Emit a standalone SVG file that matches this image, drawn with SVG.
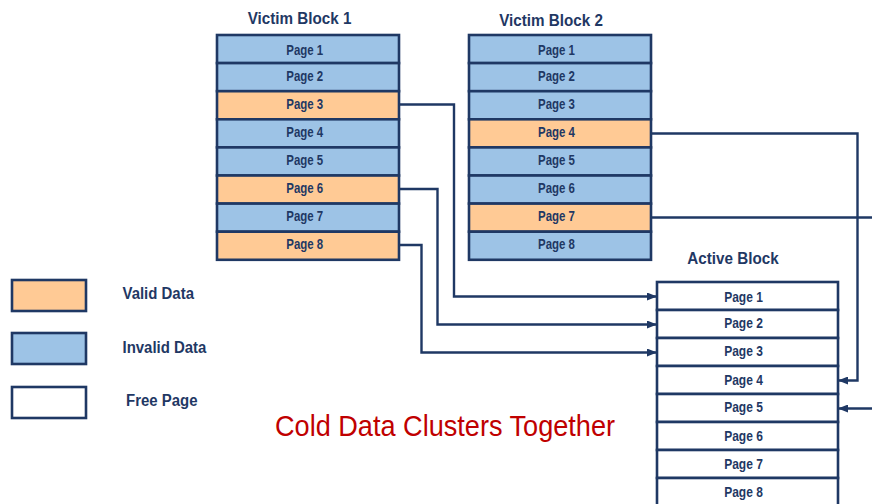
<svg xmlns="http://www.w3.org/2000/svg" width="872" height="504" viewBox="0 0 872 504">
<style>
.bd{stroke:#1F3864;stroke-width:2.6}
.v{fill:#FFCA95}
.i{fill:#9DC3E6}
.f{fill:#FFFFFF}
.pt{font-family:"Liberation Sans",Arial,sans-serif;font-weight:bold;font-size:14.5px;fill:#1F3864;text-anchor:middle}
.pa{font-family:"Liberation Sans",Arial,sans-serif;font-weight:bold;font-size:15px;fill:#1F3864;text-anchor:middle}
.tt{font-family:"Liberation Sans",Arial,sans-serif;font-weight:bold;font-size:17.3px;fill:#1F3864;text-anchor:middle}
.lt{font-family:"Liberation Sans",Arial,sans-serif;font-weight:bold;font-size:17px;fill:#1F3864}
.cap{font-family:"Liberation Sans",Arial,sans-serif;font-size:29px;fill:#C00000}
.cn{fill:none;stroke:#1F3864;stroke-width:2.4}
</style>
<defs>
<marker id="ah" viewBox="0 0 10 8" refX="10" refY="4" markerWidth="10" markerHeight="8" markerUnits="userSpaceOnUse" orient="auto">
<path d="M0,0 L10,4 L0,8 Z" fill="#1F3864"/>
</marker>
</defs>
<rect width="872" height="504" fill="#FFFFFF"/>

<g id="victim-block-1">
<text class="tt" transform="translate(299.5,24.3) scale(0.88,1)">Victim Block 1</text>
<g id="v1-p1"><rect class="bd i" x="217" y="35" width="182" height="28.1"/><text class="pt" transform="translate(304.7,55) scale(0.79,1)">Page 1</text></g>
<g id="v1-p2"><rect class="bd i" x="217" y="63.1" width="182" height="28.1"/><text class="pt" transform="translate(304.7,80.5) scale(0.79,1)">Page 2</text></g>
<g id="v1-p3"><rect class="bd v" x="217" y="91.2" width="182" height="28.1"/><text class="pt" transform="translate(304.7,108.5) scale(0.79,1)">Page 3</text></g>
<g id="v1-p4"><rect class="bd i" x="217" y="119.3" width="182" height="28.1"/><text class="pt" transform="translate(304.7,137) scale(0.79,1)">Page 4</text></g>
<g id="v1-p5"><rect class="bd i" x="217" y="147.4" width="182" height="28.1"/><text class="pt" transform="translate(304.7,164.5) scale(0.79,1)">Page 5</text></g>
<g id="v1-p6"><rect class="bd v" x="217" y="175.5" width="182" height="28.1"/><text class="pt" transform="translate(304.7,193) scale(0.79,1)">Page 6</text></g>
<g id="v1-p7"><rect class="bd i" x="217" y="203.6" width="182" height="28.1"/><text class="pt" transform="translate(304.7,221) scale(0.79,1)">Page 7</text></g>
<g id="v1-p8"><rect class="bd v" x="217" y="231.7" width="182" height="28.1"/><text class="pt" transform="translate(304.7,249) scale(0.79,1)">Page 8</text></g>
</g>

<g id="victim-block-2">
<text class="tt" transform="translate(551,26.3) scale(0.88,1)">Victim Block 2</text>
<g id="v2-p1"><rect class="bd i" x="469" y="35" width="182" height="28.1"/><text class="pt" transform="translate(556.5,55) scale(0.79,1)">Page 1</text></g>
<g id="v2-p2"><rect class="bd i" x="469" y="63.1" width="182" height="28.1"/><text class="pt" transform="translate(556.5,80.5) scale(0.79,1)">Page 2</text></g>
<g id="v2-p3"><rect class="bd i" x="469" y="91.2" width="182" height="28.1"/><text class="pt" transform="translate(556.5,108.5) scale(0.79,1)">Page 3</text></g>
<g id="v2-p4"><rect class="bd v" x="469" y="119.3" width="182" height="28.1"/><text class="pt" transform="translate(556.5,137) scale(0.79,1)">Page 4</text></g>
<g id="v2-p5"><rect class="bd i" x="469" y="147.4" width="182" height="28.1"/><text class="pt" transform="translate(556.5,164.5) scale(0.79,1)">Page 5</text></g>
<g id="v2-p6"><rect class="bd i" x="469" y="175.5" width="182" height="28.1"/><text class="pt" transform="translate(556.5,193) scale(0.79,1)">Page 6</text></g>
<g id="v2-p7"><rect class="bd v" x="469" y="203.6" width="182" height="28.1"/><text class="pt" transform="translate(556.5,221) scale(0.79,1)">Page 7</text></g>
<g id="v2-p8"><rect class="bd i" x="469" y="231.7" width="182" height="28.1"/><text class="pt" transform="translate(556.5,249) scale(0.79,1)">Page 8</text></g>
</g>

<g id="active-block">
<text class="tt" transform="translate(733,263.5) scale(0.88,1)">Active Block</text>
<g id="a-p1"><rect class="bd f" x="657" y="282" width="181" height="28"/><text class="pa" transform="translate(743.5,302) scale(0.8,1)">Page 1</text></g>
<g id="a-p2"><rect class="bd f" x="657" y="310" width="181" height="28"/><text class="pa" transform="translate(743.5,328) scale(0.8,1)">Page 2</text></g>
<g id="a-p3"><rect class="bd f" x="657" y="338" width="181" height="28"/><text class="pa" transform="translate(743.5,356) scale(0.8,1)">Page 3</text></g>
<g id="a-p4"><rect class="bd f" x="657" y="366" width="181" height="28"/><text class="pa" transform="translate(743.5,385) scale(0.8,1)">Page 4</text></g>
<g id="a-p5"><rect class="bd f" x="657" y="394" width="181" height="28"/><text class="pa" transform="translate(743.5,412) scale(0.8,1)">Page 5</text></g>
<g id="a-p6"><rect class="bd f" x="657" y="422" width="181" height="28"/><text class="pa" transform="translate(743.5,440.5) scale(0.8,1)">Page 6</text></g>
<g id="a-p7"><rect class="bd f" x="657" y="450" width="181" height="28"/><text class="pa" transform="translate(743.5,469) scale(0.8,1)">Page 7</text></g>
<g id="a-p8"><rect class="bd f" x="657" y="478" width="181" height="28"/><text class="pa" transform="translate(743.5,496.5) scale(0.8,1)">Page 8</text></g>
</g>

<g id="connectors">
<path class="cn" d="M399,104.5 H454 V296.5 H657" marker-end="url(#ah)"/>
<path class="cn" d="M399,189 H437.5 V324.5 H657" marker-end="url(#ah)"/>
<path class="cn" d="M399,245 H421.5 V352.5 H657" marker-end="url(#ah)"/>
<path class="cn" d="M651,133.5 H857.5 V380.5 H838" marker-end="url(#ah)"/>
<path class="cn" d="M651,217.5 H872"/>
<path class="cn" d="M872,408.5 H838" marker-end="url(#ah)"/>
</g>

<g id="legend">
<g id="legend-valid"><rect class="bd v" x="12" y="280" width="74" height="31"/><text class="lt" transform="translate(122.5,298.5) scale(0.88,1)">Valid Data</text></g>
<g id="legend-invalid"><rect class="bd i" x="12" y="333" width="74" height="31"/><text class="lt" transform="translate(122.5,352.5) scale(0.88,1)">Invalid Data</text></g>
<g id="legend-free"><rect class="bd f" x="12" y="387" width="74" height="31"/><text class="lt" transform="translate(126,405.5) scale(0.88,1)">Free Page</text></g>
</g>

<text class="cap" transform="translate(275,436) scale(0.935,1)">Cold Data Clusters Together</text>
</svg>
